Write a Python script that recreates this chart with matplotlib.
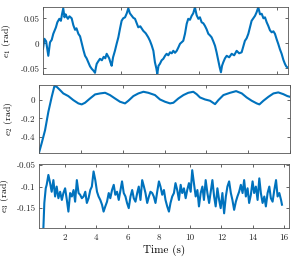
import matplotlib
matplotlib.use("Agg")
import matplotlib.pyplot as plt

# e1 (rad), top panel
e1_t = [0.00, 0.09, 0.20, 0.34, 0.45, 0.56, 0.66, 0.75, 0.83, 0.92, 1.05, 1.15, 1.22, 1.30, 1.38, 1.45,
        1.52, 1.60, 1.70, 1.84, 1.95, 2.06, 2.15, 2.27, 2.38, 2.48, 2.60, 2.70, 2.80, 2.91, 3.02, 3.13,
        3.25, 3.34, 3.40, 3.45, 3.55, 3.66, 3.78, 3.90, 4.00, 4.09, 4.18, 4.25, 4.33, 4.41, 4.50, 4.62,
        4.73, 4.84, 4.95, 5.05, 5.15, 5.27, 5.38, 5.48, 5.58, 5.70, 5.80, 5.91, 6.02, 6.12, 6.25, 6.44,
        6.60, 6.76, 6.87, 6.98, 7.09, 7.19, 7.28, 7.34, 7.42, 7.51, 7.62, 7.73, 7.84, 7.94, 8.05, 8.16,
        8.27, 8.37, 8.48, 8.59, 8.70, 8.80, 8.90, 9.01, 9.12, 9.23, 9.33, 9.44, 9.55, 9.65, 9.76, 9.87,
        9.98, 10.08, 10.19, 10.30, 10.40, 10.51, 10.62, 10.72, 10.83, 10.94, 11.05, 11.15, 11.26, 11.35,
        11.43, 11.50, 11.58, 11.69, 11.80, 11.96, 12.12, 12.28, 12.44, 12.60, 12.76, 12.87, 12.97, 13.08,
        13.19, 13.30, 13.40, 13.51, 13.62, 13.72, 13.83, 13.94, 14.05, 14.16, 14.26, 14.37, 14.47, 14.58,
        14.69, 14.80, 14.90, 15.01, 15.11, 15.22, 15.33, 15.44, 15.54, 15.62, 15.69]
e1_v = [-0.011, 0.009, 0.004, -0.025, 0.002, 0.007, 0.019, 0.026, 0.032, 0.042, 0.049, 0.045, 0.058, 0.070, 0.052, 0.058,
        0.053, 0.049, 0.054, 0.050, 0.036, 0.027, 0.030, 0.019, 0.014, 0.001, -0.014, -0.025, -0.030, -0.038, -0.046, -0.051,
        -0.055, -0.059, -0.048, -0.041, -0.036, -0.031, -0.034, -0.027, -0.030, -0.021, -0.026, -0.030, -0.038, -0.045, -0.028, -0.015,
        -0.001, 0.012, 0.030, 0.045, 0.050, 0.052, 0.060, 0.070, 0.060, 0.055, 0.051, 0.049, 0.040, 0.032, 0.034, 0.025,
        0.020, 0.012, 0.005, -0.004, -0.015, -0.038, -0.050, -0.061, -0.045, -0.041, -0.034, -0.031, -0.025, -0.021, -0.024, -0.018,
        -0.020, -0.015, -0.019, -0.015, -0.008, -0.001, 0.002, 0.005, 0.019, 0.039, 0.049, 0.047, 0.055, 0.060, 0.072, 0.056,
        0.049, 0.052, 0.042, 0.040, 0.035, 0.028, 0.019, 0.016, 0.012, 0.004, -0.005, -0.018, -0.035, -0.048,
        -0.058, -0.045, -0.038, -0.030, -0.025, -0.028, -0.021, -0.024, -0.015, -0.020, -0.018, -0.006, 0.005, 0.010,
        0.019, 0.033, 0.045, 0.050, 0.055, 0.062, 0.072, 0.058, 0.059, 0.050, 0.052, 0.042, 0.035, 0.026,
        0.022, 0.024, 0.019, 0.008, -0.001, -0.012, -0.021, -0.033, -0.041, -0.046, -0.048]

# e2 (rad), middle panel
e2_t = [0.00, 0.16, 0.36, 0.56, 0.76, 0.92, 1.06, 1.26, 1.45, 1.75, 2.05, 2.35, 2.55, 2.75, 3.05, 3.35,
        3.65, 3.95, 4.24, 4.54, 4.84, 5.14, 5.34, 5.64, 5.94, 6.24, 6.53, 6.93, 7.23, 7.53, 7.83, 8.03,
        8.33, 8.63, 8.92, 9.22, 9.42, 9.62, 9.92, 10.22, 10.52, 10.72, 11.02, 11.42, 11.78, 12.12, 12.41,
        12.71, 13.01, 13.17, 13.41, 13.71, 14.01, 14.30, 14.60, 14.84, 15.00]
e2_v = [-0.575, -0.470, -0.330, -0.127, 0.036, 0.153, 0.145, 0.109, 0.073, 0.044, 0.000, -0.036, -0.047, -0.029, 0.018, 0.062,
        0.073, 0.080, 0.055, 0.018, -0.018, -0.036, -0.007, 0.044, 0.073, 0.091, 0.080, 0.055, 0.007, -0.018, -0.036, -0.029,
        0.018, 0.055, 0.080, 0.091, 0.065, 0.029, 0.007, -0.007, -0.044, 0.000, 0.055, 0.080, 0.098, 0.073, 0.029,
        -0.007, -0.036, -0.047, -0.007, 0.036, 0.073, 0.084, 0.065, 0.044, 0.036]

# e3 (rad), bottom panel
e3_t = [0.61, 0.67, 0.76, 0.82, 0.93, 1.04, 1.14, 1.25, 1.36, 1.46, 1.57, 1.68, 1.79, 1.89, 2.00, 2.11,
        2.21, 2.32, 2.43, 2.54, 2.64, 2.75, 2.86, 2.96, 3.07, 3.18, 3.29, 3.39, 3.50, 3.61, 3.71, 3.82,
        3.93, 4.04, 4.14, 4.25, 4.36, 4.46, 4.57, 4.68, 4.79, 4.89, 5.00, 5.11, 5.21, 5.32, 5.43, 5.54,
        5.64, 5.75, 5.86, 5.96, 6.07, 6.18, 6.29, 6.39, 6.50, 6.61, 6.71, 6.82, 6.93, 7.04, 7.14, 7.25,
        7.36, 7.46, 7.57, 7.67, 7.78, 7.89, 8.00, 8.10, 8.21, 8.32, 8.42, 8.53, 8.64, 8.74, 8.85, 8.96,
        9.06, 9.17, 9.28, 9.39, 9.49, 9.60, 9.71, 9.81, 9.92, 10.03, 10.13, 10.24, 10.35, 10.46, 10.56,
        10.67, 10.78, 10.88, 10.99, 11.10, 11.21, 11.31, 11.42, 11.53, 11.63, 11.74, 11.85, 11.95, 12.06,
        12.17, 12.28, 12.38, 12.49, 12.60, 12.70, 12.81, 12.92, 13.02, 13.13, 13.24, 13.35, 13.45, 13.56,
        13.67, 13.77, 13.88, 13.99, 14.09, 14.20, 14.31, 14.42, 14.52, 14.63, 14.74, 14.84, 14.95, 15.06,
        15.16, 15.27, 15.38, 15.49, 15.59, 15.70, 15.81, 15.87]
e3_v = [-0.196, -0.138, -0.104, -0.096, -0.073, -0.092, -0.112, -0.085, -0.123, -0.100, -0.127, -0.112, -0.131, -0.115, -0.104, -0.131,
        -0.158, -0.115, -0.123, -0.108, -0.135, -0.085, -0.115, -0.119, -0.127, -0.123, -0.112, -0.138, -0.127, -0.108, -0.100, -0.065,
        -0.085, -0.112, -0.123, -0.131, -0.142, -0.158, -0.146, -0.135, -0.115, -0.127, -0.108, -0.096, -0.119, -0.112, -0.131, -0.108,
        -0.088, -0.115, -0.123, -0.138, -0.150, -0.123, -0.108, -0.127, -0.135, -0.115, -0.100, -0.131, -0.085, -0.100, -0.115, -0.138,
        -0.123, -0.112, -0.115, -0.123, -0.138, -0.112, -0.088, -0.100, -0.119, -0.108, -0.131, -0.146, -0.158, -0.138, -0.123, -0.115,
        -0.092, -0.108, -0.131, -0.096, -0.115, -0.104, -0.127, -0.108, -0.092, -0.112, -0.062, -0.092, -0.123, -0.108, -0.146,
        -0.115, -0.100, -0.131, -0.085, -0.115, -0.138, -0.112, -0.085, -0.123, -0.146, -0.104, -0.131, -0.150, -0.115,
        -0.162, -0.123, -0.100, -0.088, -0.115, -0.131, -0.154, -0.135, -0.123, -0.112, -0.096, -0.115, -0.085, -0.123,
        -0.104, -0.138, -0.119, -0.088, -0.115, -0.100, -0.131, -0.081, -0.115, -0.138, -0.123, -0.146, -0.115, -0.100,
        -0.127, -0.135, -0.108, -0.085, -0.123, -0.115, -0.131, -0.142]

time_ticks = [2, 4, 6, 8, 10, 12, 14, 16]

plt.rcParams["font.family"] = "serif"
plt.rcParams["font.serif"] = ["cmr10"]
plt.rcParams["mathtext.fontset"] = "cm"
plt.rcParams["axes.unicode_minus"] = False

blue = "#0072BD"
dark = "#262626"

fig = plt.figure(figsize=(3.01, 2.59), dpi=100)
ax1 = fig.add_axes([0.1429, 0.7143, 0.8140, 0.2575])
ax2 = fig.add_axes([0.1296, 0.4093, 0.8339, 0.2625])
ax3 = fig.add_axes([0.1296, 0.1197, 0.8316, 0.2471])

ax1.plot(e1_t, e1_v, color=blue, lw=1.5)
ax1.set_xlim(0, 15.74)
ax1.set_ylim(-0.0614, 0.072)
ax1.set_xticks([0, 5, 10, 15])
ax1.set_xticklabels([])
ax1.set_yticks([-0.05, 0, 0.05])
ax1.set_yticklabels(["-0.05", "0", "0.05"])
ax1.set_ylabel(r"$e_1$ (rad)", fontsize=7)
ax1.yaxis.set_label_coords(-0.122, 0.5)

ax2.plot(e2_t, e2_v, color=blue, lw=1.5)
ax2.set_xlim(0, 15)
ax2.set_ylim(-0.578, 0.165)
ax2.set_xticks([0, 2.5, 5, 7.5, 10, 12.5, 15])
ax2.set_xticklabels([])
ax2.set_yticks([-0.4, -0.2, 0])
ax2.set_yticklabels(["-0.4", "-0.2", "0"])
ax2.set_ylabel(r"$e_2$ (rad)", fontsize=7)
ax2.yaxis.set_label_coords(-0.096, 0.5)

ax3.plot(e3_t, e3_v, color=blue, lw=1.5)
ax3.set_xlim(0.33, 16.34)
ax3.set_ylim(-0.196, -0.0477)
ax3.set_xticks(time_ticks)
ax3.set_xticklabels([str(t) for t in time_ticks])
ax3.set_yticks([-0.15, -0.1, -0.05])
ax3.set_yticklabels(["-0.15", "-0.1", "-0.05"])
ax3.set_ylabel(r"$e_3$ (rad)", fontsize=7)
ax3.yaxis.set_label_coords(-0.110, 0.5)
ax3.set_xlabel("Time (s)", fontsize=8, labelpad=2)

for ax in [ax1, ax2, ax3]:
    ax.tick_params(direction="in", length=2.5, width=0.5, top=True, right=True,
                   labelsize=6.5, colors=dark, pad=2.5)
    ax.tick_params(axis="x", pad=4)
    for s in ax.spines.values():
        s.set_linewidth(0.6)
        s.set_color("#555555")

fig.savefig("out.png", dpi=100)
